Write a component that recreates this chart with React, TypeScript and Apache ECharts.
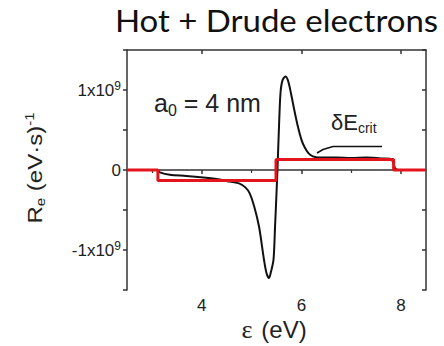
import React, { useEffect, useRef } from "react";
import * as echarts from "echarts";

// Energy axis (eV) and rate values (eV·s)^-1 for the Hot + Drude electron curve
const curveEnergy = [
  2.5, 3.0, 3.1, 3.16, 3.36, 3.69, 4.03, 4.36, 4.56, 4.76, 4.88, 4.96, 5.05, 5.15,
  5.25, 5.3, 5.35, 5.39, 5.44, 5.47, 5.5, 5.525, 5.55, 5.58, 5.62, 5.68, 5.73,
  5.79, 5.86, 5.93, 6.0, 6.06, 6.14, 6.23, 6.35, 6.7, 7.0, 7.3, 7.6, 7.78, 7.84,
  7.88, 7.95, 8.5,
];
const curveRate = [
  0, 0, 0, -0.03e9, -0.06e9, -0.075e9, -0.095e9, -0.12e9, -0.145e9, -0.17e9,
  -0.22e9, -0.29e9, -0.45e9, -0.71e9, -1.125e9, -1.29e9, -1.35e9, -1.27e9,
  -1.12e9, -0.72e9, -0.29e9, 0.1e9, 0.54e9, 0.96e9, 1.12e9, 1.17e9, 1.12e9,
  0.96e9, 0.74e9, 0.54e9, 0.38e9, 0.29e9, 0.21e9, 0.17e9, 0.155e9, 0.155e9,
  0.15e9, 0.155e9, 0.145e9, 0.14e9, 0.1e9, 0.02e9, 0, 0,
];

// Step model: breakpoints (eV) and levels held after each breakpoint
const stepEnergy = [2.5, 3.12, 5.49, 7.85, 8.5];
const stepRate = [0, -0.13e9, 0.13e9, 0, 0];

// Axis ticks
const xLabelTicks = [4, 6, 8];
const xMinorTicks = [3, 5, 7];
const yLabelTicks = [-1e9, 0, 1e9];

const SANS = "Liberation Sans, Arial, sans-serif";

export default function App() {
  const ref = useRef<HTMLDivElement>(null);

  useEffect(() => {
    if (!ref.current) return;
    const chart = echarts.init(ref.current, undefined, { renderer: "svg" });

    const frame = { lineStyle: { color: "#333", width: 1.5 } };

    chart.setOption({
      animation: false,
      backgroundColor: "#fff",
      grid: { left: 127, right: 18, top: 50, bottom: 56 },
      xAxis: [
        {
          type: "value",
          min: 2.5,
          max: 8.5,
          position: "bottom",
          axisLine: { show: true, ...frame },
          axisTick: { show: true, inside: false, length: 4, customValues: xLabelTicks, lineStyle: { color: "#333", width: 1.5 } },
          axisLabel: { customValues: xLabelTicks, fontSize: 17, color: "#222", fontFamily: SANS, margin: 7 },
          splitLine: { show: false },
        },
        {
          type: "value",
          min: 2.5,
          max: 8.5,
          position: "bottom",
          axisLine: { show: false },
          axisTick: { show: true, inside: false, length: 3, customValues: xMinorTicks, lineStyle: { color: "#333", width: 1.2 } },
          axisLabel: { show: false },
          splitLine: { show: false },
        },
        {
          type: "value",
          min: 2.5,
          max: 8.5,
          position: "top",
          axisLine: { show: true, ...frame },
          axisTick: { show: true, inside: true, length: 4, customValues: xLabelTicks, lineStyle: { color: "#333", width: 1.5 } },
          axisLabel: { show: false },
          splitLine: { show: false },
        },
      ],
      yAxis: [
        {
          type: "value",
          min: -1.5e9,
          max: 1.5e9,
          interval: 0.5e9,
          position: "left",
          axisLine: { show: true, ...frame },
          axisTick: { show: true, inside: false, length: 4, lineStyle: { color: "#333", width: 1.5 } },
          axisLabel: {
            margin: 6,
            customValues: yLabelTicks,
            formatter: (v: number) =>
              v === 0 ? "{n|0}" : v > 0 ? "{n|1x10}{s|9}" : "{n|-1x10}{s|9}",
            rich: {
              n: { fontSize: 17, color: "#222", fontFamily: SANS, lineHeight: 20 },
              s: { fontSize: 12, color: "#222", fontFamily: SANS, lineHeight: 12, verticalAlign: "top" },
            },
          },
          splitLine: { show: false },
        },
        {
          type: "value",
          min: -1.5e9,
          max: 1.5e9,
          interval: 0.5e9,
          position: "right",
          axisLine: { show: true, ...frame },
          axisTick: { show: true, inside: true, length: 4, lineStyle: { color: "#333", width: 1.5 } },
          axisLabel: { show: false },
          splitLine: { show: false },
        },
      ],
      series: [
        {
          type: "line",
          name: "Hot + Drude",
          xAxisIndex: 0,
          yAxisIndex: 0,
          data: curveEnergy.map((e, i) => [e, curveRate[i]]),
          showSymbol: false,
          smooth: 0.3,
          lineStyle: { color: "#111", width: 2 },
          z: 2,
        },
        {
          type: "line",
          name: "step",
          xAxisIndex: 0,
          yAxisIndex: 0,
          data: stepEnergy.map((e, i) => [e, stepRate[i]]),
          step: "end",
          showSymbol: false,
          lineStyle: { color: "#e3141b", width: 3 },
          z: 3,
        },
      ],
      graphic: [
        {
          type: "text",
          x: 276.5,
          y: 21,
          scaleX: 1.1,
          style: {
            text: "Hot + Drude electrons",
            font: "30px Lato, sans-serif",
            fill: "#111",
            textAlign: "center",
            textVerticalAlign: "middle",
          },
        },
        {
          type: "text",
          x: 35,
          y: 168,
          rotation: Math.PI / 2,
          scaleY: 0.85,
          style: {
            text: "{n|R}{b|e}{n| (eV·s)}{s|-1}",
            textAlign: "center",
            textVerticalAlign: "middle",
            rich: {
              n: { fontSize: 24, fill: "#222", fontFamily: SANS, lineHeight: 28 },
              b: { fontSize: 15, fill: "#222", fontFamily: SANS, lineHeight: 14, verticalAlign: "bottom" },
              s: { fontSize: 15, fill: "#222", fontFamily: SANS, lineHeight: 14, verticalAlign: "top" },
            },
          },
        },
        {
          type: "text",
          x: 274,
          y: 329,
          style: {
            text: "{g|ε}{n|(eV)}",
            textAlign: "center",
            textVerticalAlign: "middle",
            rich: {
              g: { fontSize: 26, fill: "#222", fontFamily: "Liberation Serif, serif", padding: [0, 9, 0, 0] },
              n: { fontSize: 24, fill: "#222", fontFamily: SANS },
            },
          },
        },
        {
          type: "text",
          x: 154,
          y: 103,
          style: {
            text: "{n|a}{b|0}{n| = 4 nm}",
            textAlign: "left",
            textVerticalAlign: "middle",
            rich: {
              n: { fontSize: 25, fill: "#222", fontFamily: SANS, lineHeight: 30 },
              b: { fontSize: 16, fill: "#222", fontFamily: SANS, lineHeight: 14, verticalAlign: "bottom" },
            },
          },
        },
        {
          type: "text",
          x: 331,
          y: 122,
          style: {
            text: "{n|δE}{b|crit}",
            textAlign: "left",
            textVerticalAlign: "middle",
            rich: {
              n: { fontSize: 22, fill: "#222", fontFamily: SANS, lineHeight: 26 },
              b: { fontSize: 14, fill: "#222", fontFamily: SANS, lineHeight: 14, verticalAlign: "bottom" },
            },
          },
        },
        {
          type: "polyline",
          shape: { points: [[317, 153], [323, 149.5], [333, 146.5], [382, 146.5]] },
          style: { stroke: "#111", lineWidth: 1.5, fill: "none" },
          z: 10,
        },
      ],
    });

    return () => chart.dispose();
  }, []);

  return (
    <div
      ref={ref}
      style={{ position: "absolute", left: 0, top: 0, width: 444, height: 346 }}
    />
  );
}
